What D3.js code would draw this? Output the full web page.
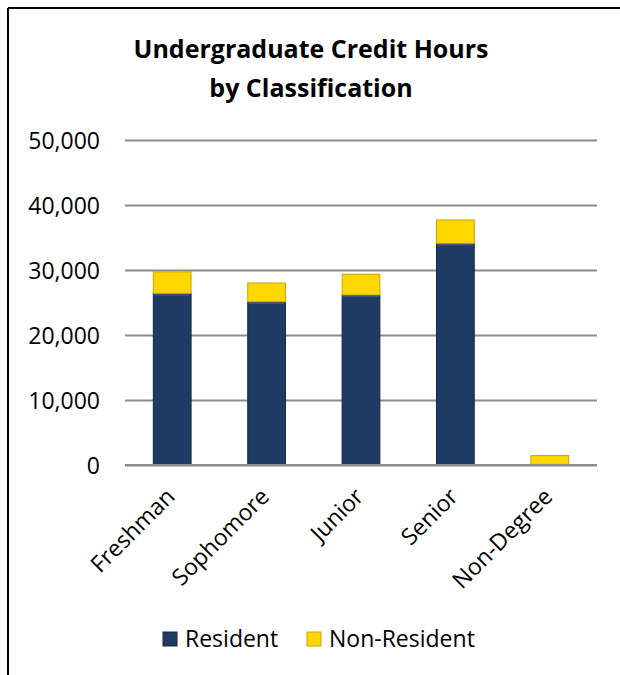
<!DOCTYPE html>
<html>
<head>
<meta charset="utf-8">
<script src="https://cdn.jsdelivr.net/npm/d3@7"></script>
<style>
  html, body { margin: 0; padding: 0; background: #fff; }
  svg { display: block; }
  text { font-family: "Open Sans", "Noto Sans", sans-serif; fill: #000; }
</style>
</head>
<body>
<svg id="chart" width="620" height="675"></svg>
<script>
const categories = ["Freshman", "Sophomore", "Junior", "Senior", "Non-Degree"];
const seriesNames = ["Resident", "Non-Resident"];
const resident = [26400, 25100, 26150, 34100, 100];
const nonResident = [3300, 2900, 3200, 3600, 1350];
const yTicks = [0, 10000, 20000, 30000, 40000, 50000];
const titleLines = ["Undergraduate Credit Hours", "by Classification"];
const colors = ["#1F3B63", "#FFD700"];
const strokeColors = ["#14294A", "#C8A600"];

const svg = d3.select("#chart");
const W = 620, H = 675;
const plot = { left: 125, right: 597, top: 140, bottom: 465 };

// frame (top and left edges)
svg.append("line").attr("x1", 8).attr("y1", 8).attr("x2", W).attr("y2", 8)
  .attr("stroke", "#000").attr("stroke-width", 2);
svg.append("line").attr("x1", 8).attr("y1", 8).attr("x2", 8).attr("y2", H)
  .attr("stroke", "#000").attr("stroke-width", 2);

// title
svg.append("g").selectAll("text").data(titleLines).join("text")
  .attr("x", 311).attr("y", (d, i) => 58 + i * 39)
  .attr("text-anchor", "middle")
  .attr("font-size", 25).attr("font-weight", "bold")
  .text(d => d);

const x = d3.scaleBand().domain(categories)
  .range([plot.left, plot.right]).paddingInner(0.6).paddingOuter(0.3);
const y = d3.scaleLinear().domain([0, 50000]).range([plot.bottom, plot.top]);

// gridlines + y labels
const yAxis = d3.axisLeft(y).tickValues(yTicks)
  .tickSize(-(plot.right - plot.left)).tickPadding(25)
  .tickFormat(d3.format(","));
const gy = svg.append("g").attr("transform", `translate(${plot.left},0)`).call(yAxis);
gy.select(".domain").remove();
gy.selectAll(".tick line").attr("stroke", "#8C8C8C").attr("stroke-width", 2);
gy.selectAll(".tick text").attr("font-size", 23).attr("dy", "0.36em")
  .style("font-family", "'Open Sans', sans-serif");

// stacked data
const rows = categories.map((c, i) => ({ cat: c, Resident: resident[i], "Non-Resident": nonResident[i] }));
const stack = d3.stack().keys(seriesNames)(rows);

const layers = svg.append("g").selectAll("g").data(stack).join("g")
  .attr("fill", (d, i) => colors[i])
  .attr("stroke", (d, i) => strokeColors[i]);
layers.selectAll("rect").data(d => d).join("rect")
  .attr("x", d => x(d.data.cat))
  .attr("width", x.bandwidth())
  .attr("y", d => y(d[1]))
  .attr("height", d => Math.max(0, y(d[0]) - y(d[1])))
  .attr("stroke-width", 1);

// highlight at top of resident bars
svg.append("g").selectAll("line").data(stack[0]).join("line")
  .attr("x1", d => x(d.data.cat) + 1).attr("x2", d => x(d.data.cat) + x.bandwidth() - 1)
  .attr("y1", d => y(d[1]) + 1.5).attr("y2", d => y(d[1]) + 1.5)
  .attr("stroke", "#3A5680").attr("stroke-width", 1.5)
  .attr("opacity", d => (y(d[0]) - y(d[1])) > 4 ? 1 : 0);

// baseline
svg.append("line").attr("x1", plot.left).attr("x2", plot.right)
  .attr("y1", y(0)).attr("y2", y(0)).attr("stroke", "#8C8C8C").attr("stroke-width", 2);

// x labels rotated
svg.append("g").selectAll("text").data(categories).join("text")
  .attr("transform", d => `translate(${x(d) + x.bandwidth() / 2 + 4},${plot.bottom + 33}) rotate(-45)`)
  .attr("text-anchor", "end")
  .attr("font-size", 23)
  .text(d => d);

// legend
const legendItems = [{ x: 163, name: seriesNames[0], i: 0 }, { x: 307, name: seriesNames[1], i: 1 }];
const lg = svg.append("g").selectAll("g").data(legendItems).join("g")
  .attr("transform", d => `translate(${d.x},632)`);
lg.append("rect").attr("width", 14).attr("height", 14)
  .attr("fill", d => colors[d.i]).attr("stroke", d => strokeColors[d.i]).attr("stroke-width", 1);
lg.append("text").attr("x", 22).attr("y", 15).attr("font-size", 23).text(d => d.name);
</script>
</body>
</html>
